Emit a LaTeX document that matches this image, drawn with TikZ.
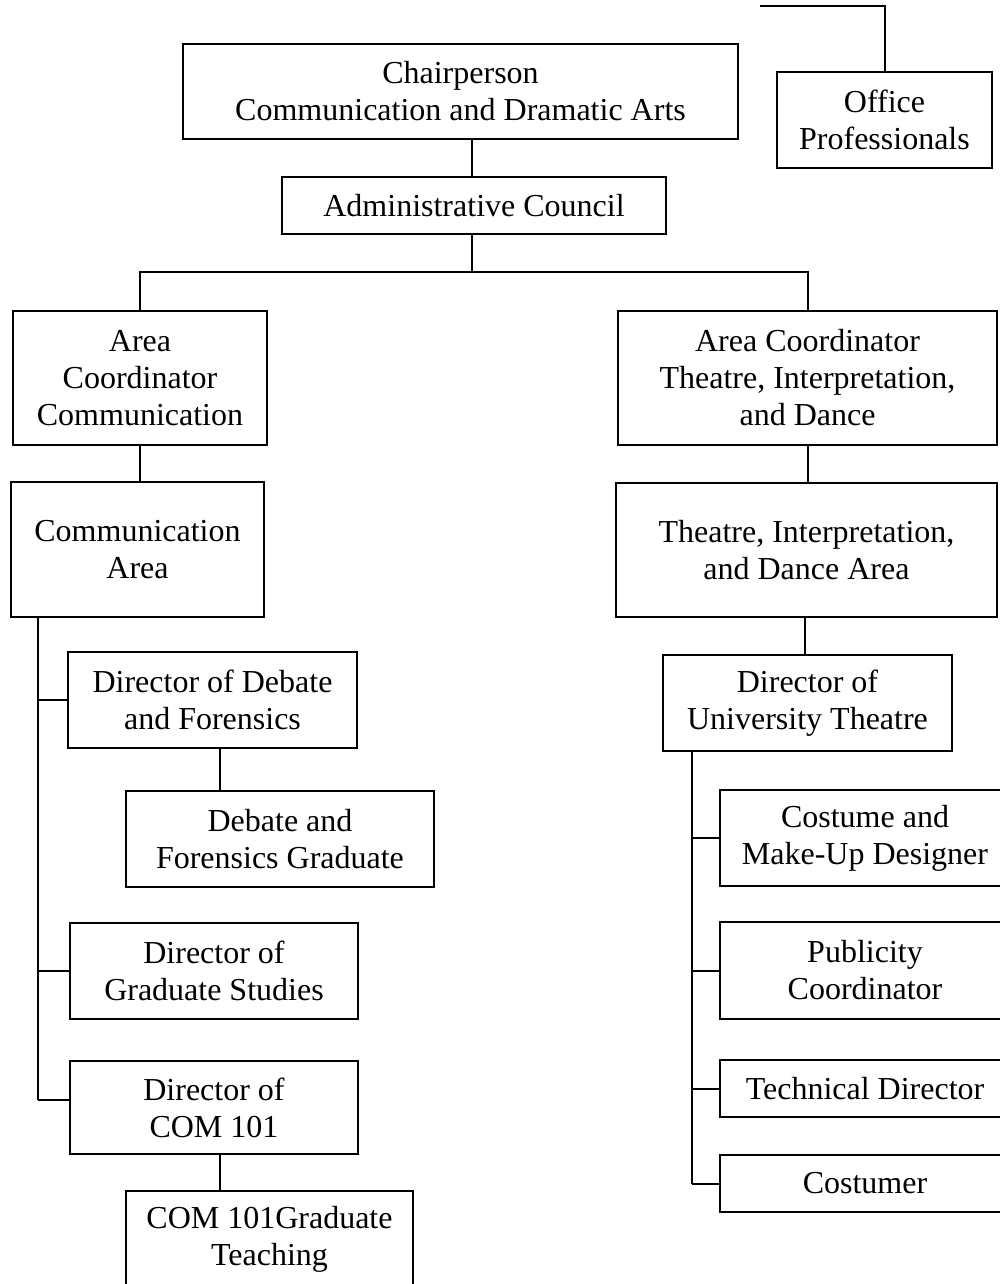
\documentclass[tikz,border=0pt]{standalone}
\usepackage{fontspec}
\setmainfont{Liberation Serif}
\newcommand\orgbox[6]{\node[box, minimum width={(#4-#2)*0.5pt}, minimum height={(#5-#3)*0.5pt}] (#1) at ({(#2+#4)/2},{(#3+#5)/2}) {#6};}
\begin{document}
\begin{tikzpicture}[x=0.5pt,y=-0.5pt,
  box/.style={draw, line width=1pt, inner sep=0pt, align=center, font=\fontsize{16}{18.5}\selectfont},
  conn/.style={line width=1pt}]
\useasboundingbox[fill=white] (0,0) rectangle (1000,1284);
\orgbox{chair}{183}{44}{738}{139}{Chairperson\\Communication and Dramatic Arts}
\orgbox{office}{777}{72}{992}{168}{Office\\Professionals}
\orgbox{admin}{282}{177}{666}{234}{Administrative Council}
\orgbox{acL}{13}{311}{267}{445}{Area\\Coordinator\\Communication}
\orgbox{acR}{618}{311}{997}{445}{Area Coordinator\\Theatre, Interpretation,\\and Dance}
\orgbox{caL}{11}{482}{264}{617}{Communication\\Area}
\orgbox{caR}{616}{483}{997}{617}{Theatre, Interpretation,\\and Dance Area}
\orgbox{ddf}{68}{652}{357}{748}{Director of Debate\\and Forensics}
\orgbox{dfg}{126}{791}{434}{887}{Debate and\\Forensics Graduate}
\orgbox{dgs}{70}{923}{358}{1019}{Director of\\Graduate Studies}
\orgbox{dcom}{70}{1061}{358}{1154}{Director of\\COM 101}
\orgbox{cg}{126}{1191}{413}{1287}{COM 101Graduate\\Teaching}
\orgbox{dut}{663}{655}{952}{751}{Director of\\University Theatre}
\orgbox{cmd}{720}{790}{1010}{886}{Costume and\\Make-Up Designer}
\orgbox{pub}{720}{922}{1010}{1019}{Publicity\\Coordinator}
\orgbox{td}{720}{1060}{1010}{1117}{Technical Director}
\orgbox{cos}{720}{1155}{1010}{1212}{Costumer}
% connectors
\coordinate (tl) at (760,6);
\draw[conn] (tl) -| (office.north);
\draw[conn] (admin.north -| 472,0) -- (chair.south -| 472,0);
\coordinate (bus) at (472,272);
\draw[conn] (admin.south -| bus) -- (bus);
\draw[conn] (acL.north) |- (bus) -| (acR.north);
\draw[conn] (acL.south) -- (caL.north -| acL.south);
\draw[conn] (acR.south) -- (caR.north -| acR.south);
\draw[conn] (caR.south -| 805,0) -- (dut.north -| 805,0);
% left bus
\coordinate (lb) at (38,1100);
\draw[conn] (lb |- caL.south) -- (lb);
\draw[conn] (lb |- ddf.west) -- (ddf.west);
\draw[conn] (lb |- dgs.west) -- (dgs.west);
\draw[conn] (lb) -- (lb -| dcom.west);
\coordinate (lx) at (220,0);
\draw[conn] (ddf.south -| lx) -- (dfg.north -| lx);
\draw[conn] (dcom.south -| lx) -- (cg.north -| lx);
% right bus
\coordinate (rb) at (692,1183.5);
\draw[conn] (rb |- dut.south) -- (rb);
\draw[conn] (rb |- cmd.west) -- (cmd.west);
\draw[conn] (rb |- pub.west) -- (pub.west);
\draw[conn] (rb |- td.west) -- (td.west);
\draw[conn] (rb) -- (cos.west);
\end{tikzpicture}
\end{document}
